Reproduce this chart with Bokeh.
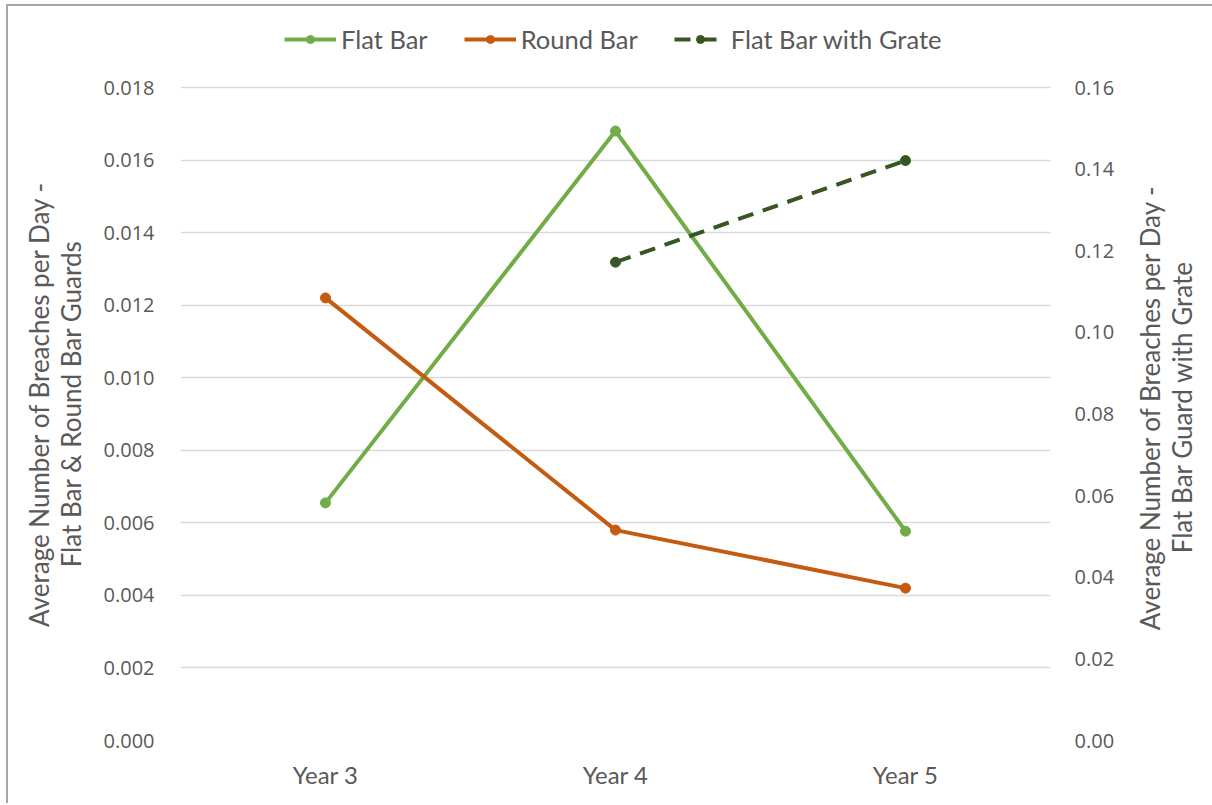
import math
from bokeh.plotting import figure
from bokeh.layouts import row
from bokeh.models import (FactorRange, Range1d, LinearAxis, FixedTicker, NumeralTickFormatter,
                          Legend, LegendItem)
from bokeh.embed import file_html
from bokeh.resources import INLINE

years = ["Year 3", "Year 4", "Year 5"]
flat_bar = [0.00655, 0.0168, 0.00577]
round_bar = [0.0122, 0.0058, 0.0042]
grate_years = ["Year 4", "Year 5"]
flat_bar_grate = [0.1172, 0.1421]

left_ticks = [0.0, 0.002, 0.004, 0.006, 0.008, 0.010, 0.012, 0.014, 0.016, 0.018]
right_ticks = [0.0, 0.02, 0.04, 0.06, 0.08, 0.10, 0.12, 0.14, 0.16]

NB_L = "\u00a0" * 7
NB_R = "\u00a0" * 8
left_title = "Average Number of Breaches per Day -" + NB_L + "\nFlat Bar & Round Bar Guards" + NB_L
right_title = "Average Number of Breaches per Day -" + NB_R + "\nFlat Bar Guard with Grate" + NB_R

C_FLAT = "#70AD47"
C_ROUND = "#C55A11"
C_GRATE = "#375623"
TXT = "#595959"
COND = "Lato"
SANS = "Open Sans"

# layout geometry (pixels): frame spans 720 px, gridlines occupy the lower 653 px
FRAME_H = 720
GRID_H = 653
left_top = left_ticks[-1] * FRAME_H / GRID_H
right_top = right_ticks[-1] * FRAME_H / GRID_H

H = 797
p = figure(x_range=FactorRange(factors=years, range_padding=0),
           y_range=Range1d(0, left_top),
           width=1122, height=H,
           output_backend="svg", toolbar_location=None,
           min_border_left=172, min_border_right=80,
           min_border_top=14, min_border_bottom=63)
p.extra_y_ranges = {"grate": Range1d(0, right_top)}
p.outline_line_color = None
p.background_fill_color = "white"
p.border_fill_color = "white"

p.xgrid.grid_line_color = None
p.ygrid.grid_line_color = "#d9d9d9"
p.ygrid.grid_line_width = 1.3
p.ygrid.ticker = FixedTicker(ticks=left_ticks)

# left axis
ax = p.yaxis[0]
ax.ticker = FixedTicker(ticks=left_ticks)
ax.formatter = NumeralTickFormatter(format="0.000")
ax.axis_label = left_title

# right axis (ticks only; its title is drawn by the narrow companion figure)
rax = LinearAxis(y_range_name="grate", ticker=FixedTicker(ticks=right_ticks),
                 formatter=NumeralTickFormatter(format="0.00"))
p.add_layout(rax, "right")

for a in [ax, rax, p.xaxis[0]]:
    a.axis_line_color = None
    a.major_tick_line_color = None
    a.minor_tick_line_color = None
    a.major_label_text_color = TXT
    a.axis_label_text_color = TXT
    a.axis_label_text_font_style = "normal"
    a.axis_label_text_font = COND
    a.axis_label_text_font_size = "26px"
    a.axis_label_text_line_height = 1.0

for a in [ax, rax]:
    a.major_label_text_font = SANS
    a.major_label_text_font_size = "20px"
ax.major_label_standoff = 20
rax.major_label_standoff = 18
ax.axis_label_standoff = 14

xa = p.xaxis[0]
xa.major_label_text_font = COND
xa.major_label_text_font_size = "24px"
xa.major_label_standoff = 13

r_flat_l = p.line(years, flat_bar, line_color=C_FLAT, line_width=4)
r_flat_s = p.scatter(years, flat_bar, size=10, color=C_FLAT)
r_round_l = p.line(years, round_bar, line_color=C_ROUND, line_width=4)
r_round_s = p.scatter(years, round_bar, size=10, color=C_ROUND)
r_gr_l = p.line(grate_years, flat_bar_grate, line_color=C_GRATE, line_width=4,
                line_dash="16 10", y_range_name="grate")
r_gr_s = p.scatter(grate_years, flat_bar_grate, size=10, color=C_GRATE, y_range_name="grate")

legend = Legend(items=[LegendItem(label="Flat Bar", renderers=[r_flat_l, r_flat_s]),
                       LegendItem(label="Round Bar", renderers=[r_round_l, r_round_s]),
                       LegendItem(label="Flat Bar with Grate", renderers=[r_gr_l, r_gr_s])],
                orientation="horizontal", location=(104, 686),
                label_text_font=COND, label_text_font_size="25.5px", label_text_color=TXT,
                glyph_width=52, label_standoff=5, spacing=36,
                border_line_color=None, background_fill_alpha=0, padding=0, margin=0)
p.add_layout(legend, "center")

# narrow companion figure carrying the right-hand axis title (reads bottom-to-top)
p2 = figure(x_range=Range1d(0, 1), y_range=Range1d(0, 1), width=82, height=H,
            output_backend="svg", toolbar_location=None,
            min_border_left=58, min_border_right=0,
            min_border_top=14, min_border_bottom=63)
p2.outline_line_color = None
p2.grid.grid_line_color = None
p2.xaxis.visible = False
p2.border_fill_color = "white"
t_ax = p2.yaxis[0]
t_ax.ticker = FixedTicker(ticks=[])
t_ax.axis_line_color = None
t_ax.major_tick_line_color = None
t_ax.minor_tick_line_color = None
t_ax.axis_label = right_title
t_ax.axis_label_text_color = TXT
t_ax.axis_label_text_font_style = "normal"
t_ax.axis_label_text_font = COND
t_ax.axis_label_text_font_size = "26px"
t_ax.axis_label_text_line_height = 1.0
t_ax.axis_label_standoff = 2
t_ax.major_label_standoff = 0

layout = row(p, p2)
layout.styles = {"border-top": "2px solid #a6a6a6", "border-left": "2px solid #a6a6a6",
                 "margin-left": "6px", "margin-top": "4px"}

open("out.html", "w").write(file_html(layout, INLINE))
